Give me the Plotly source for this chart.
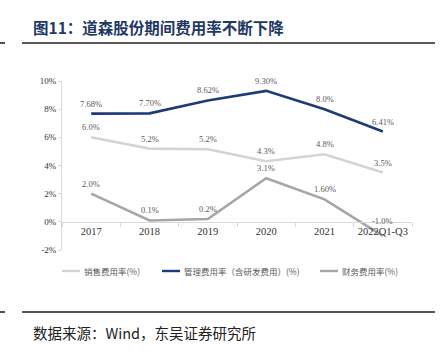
import plotly.graph_objects as go

categories = ["2017", "2018", "2019", "2020", "2021", "2022Q1-Q3"]
sales_rate = [6.0, 5.2, 5.15, 4.3, 4.8, 3.5]
mgmt_rate = [7.68, 7.70, 8.62, 9.30, 8.0, 6.41]
fin_rate = [2.0, 0.1, 0.2, 3.1, 1.60, -1.0]
sales_labels = ["6.0%", "5.2%", "5.2%", "4.3%", "4.8%", "3.5%"]
mgmt_labels = ["7.68%", "7.70%", "8.62%", "9.30%", "8.0%", "6.41%"]
fin_labels = ["2.0%", "0.1%", "0.2%", "3.1%", "1.60%", "-1.0%"]
series_names = ["销售费用率(%)", "管理费用率（含研发费用）(%)", "财务费用率(%)"]
y_ticks = [-2, 0, 2, 4, 6, 8, 10]

W, H = 446, 352
L, R, T, B = 62, 412, 81, 250  # plot area in pixels

def px(x):
    return (x - L) / (R - L)

def py(y):
    return (B - y) / (B - T)

colors = ["#d4d4d4", "#1f3a78", "#a6a6a6"]
serif = "Liberation Serif, Times New Roman, serif"
cjk = "Noto Sans CJK SC"

fig = go.Figure()
series = [(sales_rate, sales_labels), (mgmt_rate, mgmt_labels), (fin_rate, fin_labels)]
for (vals, labs), name, col in zip(series, series_names, colors):
    fig.add_trace(go.Scatter(x=categories, y=vals, mode="lines", name=name,
                             line=dict(color=col, width=2.6), showlegend=False))
    for i, (v, t) in enumerate(zip(vals, labs)):
        fig.add_annotation(x=i, y=v, xref="x", yref="y", text=t, showarrow=False,
                           yshift=10 if v >= 0 else 15,
                           font=dict(family=serif, size=8.5, color="#595959"))

shapes = []
for yy in (43, 312):
    shapes.append(dict(type="line", xref="paper", yref="paper", x0=px(22), x1=px(435),
                       y0=py(yy), y1=py(yy), line=dict(color="#222222", width=1.6)))
    shapes.append(dict(type="line", xref="paper", yref="paper", x0=px(0), x1=px(5),
                       y0=py(yy), y1=py(yy), line=dict(color="#222222", width=1.6)))

legend_items = [(62, 82), (162, 182), (320, 340)]
for (lx, tx), name, col in zip(legend_items, series_names, colors):
    shapes.append(dict(type="line", xref="paper", yref="paper", x0=px(lx), x1=px(lx + 18),
                       y0=py(271), y1=py(271), line=dict(color=col, width=2.4)))
    fig.add_annotation(xref="paper", yref="paper", x=px(tx), y=py(271), text=name,
                       showarrow=False, xanchor="left", yanchor="middle",
                       font=dict(family=cjk, size=8.5, color="#595959"))

fig.add_annotation(xref="paper", yref="paper", x=px(31), y=py(27), text="图11：道森股份期间费用率不断下降",
                   showarrow=False, xanchor="left", yanchor="middle",
                   font=dict(family=cjk, size=15.5, color="#1f3864", weight="bold"))
fig.add_annotation(xref="paper", yref="paper", x=px(31), y=py(332), text="数据来源：Wind，东吴证券研究所",
                   showarrow=False, xanchor="left", yanchor="middle",
                   font=dict(family=cjk, size=14.5, color="#222222"))

fig.update_layout(
    width=W, height=H,
    margin=dict(l=L, r=W - R, t=T, b=H - B, pad=0),
    paper_bgcolor="white", plot_bgcolor="white",
    shapes=shapes,
    showlegend=False,
    xaxis=dict(type="category", range=[-0.5, 5.5], anchor="free", position=2 / 12,
               showline=True, linecolor="#d9d9d9", linewidth=1, tickangle=0,
               ticks="outside", tickson="boundaries", ticklen=4, tickcolor="#d9d9d9",
               showgrid=False, zeroline=False,
               tickfont=dict(family=serif, size=10.5, color="#333333")),
    yaxis=dict(range=[-2, 10], tickvals=y_ticks, ticktext=[f"{v}%" for v in y_ticks],
               showline=True, linecolor="#d9d9d9", linewidth=1,
               ticks="outside", ticklen=3, tickcolor="#d9d9d9",
               showgrid=False, zeroline=False,
               tickfont=dict(family=serif, size=9, color="#333333")),
)

fig.write_html("out.html")
